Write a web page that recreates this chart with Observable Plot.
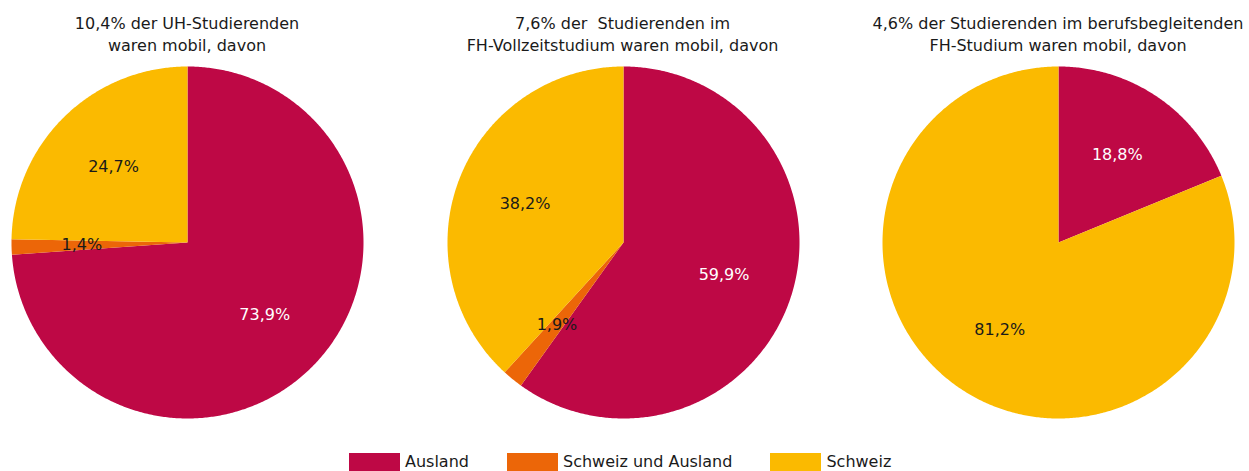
<!DOCTYPE html>
<html>
<head>
<meta charset="utf-8">
<script src="https://cdn.jsdelivr.net/npm/d3@7"></script>
<script src="https://cdn.jsdelivr.net/npm/@observablehq/plot@0.6"></script>
<style>
  html, body { margin: 0; padding: 0; background: #fff; }
  #root { position: relative; width: 1249px; height: 471px; overflow: hidden; font-family: "DejaVu Sans", sans-serif; color: #1a1a1a; }
  .title { position: absolute; width: 440px; text-align: center; font-size: 16px; line-height: 22px; white-space: pre; }
  .pie { position: absolute; }
  .legend { position: absolute; left: 349px; top: 452px; display: flex; gap: 38px; font-size: 16px; }
  .item { display: flex; align-items: center; }
  .sw { width: 51px; height: 18px; margin-right: 5px; }
</style>
</head>
<body>
<div id="root"></div>
<script>
const categories = ["Ausland", "Schweiz und Ausland", "Schweiz"];
const colors = ["#BE0845", "#EC6608", "#FBBA00"];
const titles = [
  ["10,4% der UH-Studierenden", "waren mobil, davon"],
  ["7,6% der  Studierenden im", "FH-Vollzeitstudium waren mobil, davon"],
  ["4,6% der Studierenden im berufsbegleitenden", "FH-Studium waren mobil, davon"]
];
const ausland = [73.9, 59.9, 18.8];
const schweizUndAusland = [1.4, 1.9, 0];
const schweiz = [24.7, 38.2, 81.2];

const root = document.getElementById("root");
const centersX = [187, 622.5, 1058];
const centerY = 242;
const R = 176;
const M = 4;
const size = 2 * (R + M);

const fmt = v => v.toFixed(1).replace(".", ",") + "%";

titles.forEach((t, i) => {
  const div = document.createElement("div");
  div.className = "title";
  div.style.left = (centersX[i] - 220) + "px";
  div.style.top = "13px";
  div.textContent = t[0] + "\n" + t[1];
  root.appendChild(div);
});

for (let i = 0; i < 3; i++) {
  const data = categories.map((c, k) => ({category: c, value: [ausland, schweizUndAusland, schweiz][k][i]}));
  const arcs = d3.pie().sort(null).value(d => d.value).startAngle(0).endAngle(2 * Math.PI)(data);
  const pts = [];
  const labels = [];
  arcs.forEach(a => {
    if (a.data.value <= 0) return;
    const c = a.data.category;
    pts.push({category: c, x: 0, y: 0});
    const n = Math.max(2, Math.ceil((a.endAngle - a.startAngle) / (Math.PI / 360)));
    for (let j = 0; j <= n; j++) {
      const th = a.startAngle + (a.endAngle - a.startAngle) * j / n;
      pts.push({category: c, x: Math.sin(th), y: Math.cos(th)});
    }
    const mid = (a.startAngle + a.endAngle) / 2;
    labels.push({category: c, label: fmt(a.data.value), x: 0.6 * Math.sin(mid), y: 0.6 * Math.cos(mid)});
  });
  const chart = Plot.plot({
    width: size,
    height: size,
    margin: M,
    x: {domain: [-1, 1], axis: null},
    y: {domain: [-1, 1], axis: null},
    color: {domain: categories, range: colors},
    style: {fontFamily: "DejaVu Sans, sans-serif", background: "transparent"},
    marks: [
      Plot.line(pts, {x: "x", y: "y", z: "category", fill: "category", stroke: "none", curve: "linear-closed"}),
      Plot.text(labels, {x: "x", y: "y", text: "label", fontSize: 16,
        fill: d => d.category === "Ausland" ? "#ffffff" : "#1a1a1a"})
    ]
  });
  chart.classList.add("pie");
  chart.style.left = (centersX[i] - R - M) + "px";
  chart.style.top = (centerY - R - M) + "px";
  root.appendChild(chart);
}

const legend = document.createElement("div");
legend.className = "legend";
categories.forEach((c, k) => {
  const item = document.createElement("div");
  item.className = "item";
  const sw = document.createElement("div");
  sw.className = "sw";
  sw.style.background = colors[k];
  const lab = document.createElement("span");
  lab.textContent = c;
  item.appendChild(sw);
  item.appendChild(lab);
  legend.appendChild(item);
});
root.appendChild(legend);
</script>
</body>
</html>
